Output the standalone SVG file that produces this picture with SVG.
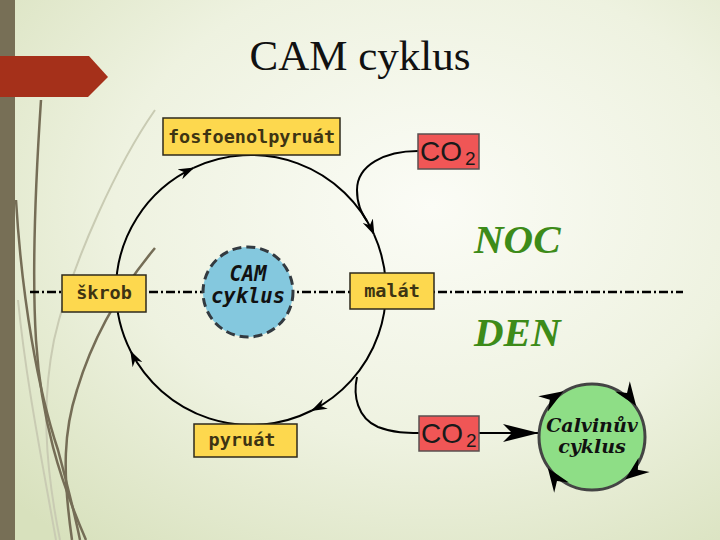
<svg xmlns="http://www.w3.org/2000/svg" width="720" height="540" viewBox="0 0 720 540">
  <defs>
    <radialGradient id="bg" cx="0.6" cy="0.38" r="0.8">
      <stop offset="0" stop-color="#fbfcf6"/>
      <stop offset="0.55" stop-color="#eef2e0"/>
      <stop offset="1" stop-color="#d8e1bd"/>
    </radialGradient>
    <marker id="dart" markerUnits="userSpaceOnUse" viewBox="0 0 16 11" markerWidth="16" markerHeight="11" refX="15" refY="5.5" orient="auto">
      <path d="M0,0 L16,5.5 L0,11 L5,5.5 z" fill="#000"/>
    </marker>
    <marker id="bigdart" markerUnits="userSpaceOnUse" viewBox="0 0 36 18" markerWidth="36" markerHeight="18" refX="35" refY="9" orient="auto">
      <path d="M0,0 L36,9 L0,18 L9,9 z" fill="#000"/>
    </marker>
    <path id="wedge" d="M0,0 L-24,-9 L-16,0 L-24,9 z" fill="#000"/>
    <style>
      .box { fill: #fdd84e; stroke: #2e2a1c; stroke-width: 1.5; }
      .mono { font-family: "DejaVu Sans Mono", "Liberation Mono", monospace; font-weight: bold; font-size: 18.5px; fill: #3d3413; }
      .co2 { fill: #f05656; stroke: #5a5050; stroke-width: 1.5; }
      .co2t { font-family: "Liberation Sans", Arial, sans-serif; fill: #1a1a1a; }
      .conn { fill: none; stroke: #000; stroke-width: 2; }
      .daynight { font-family: "Liberation Serif", "Times New Roman", serif; font-weight: bold; font-style: italic; font-size: 41px; fill: #3d8b19; }
      .camt { font-family: "DejaVu Sans Mono", monospace; font-weight: bold; font-style: italic; font-size: 20.5px; fill: #111; }
      .calt { font-family: "DejaVu Serif", serif; font-weight: bold; font-style: italic; font-size: 19px; fill: #111; }
    </style>
  </defs>

  <rect x="0" y="0" width="720" height="540" fill="url(#bg)"/>

  <!-- decorative slide elements -->
  <g id="decor" fill="none">
    <path d="M155,110 C120,160 72,260 54,340 C42,400 44,460 60,540" stroke="#c9cbb3" stroke-width="2"/>
    <path d="M18,300 C26,380 40,450 56,540" stroke="#c9cbb3" stroke-width="2"/>
    <path d="M41,100 C37,160 31,260 36,340 C41,420 60,480 86,540" stroke="#756d56" stroke-width="2.5"/>
    <path d="M16,200 C22,300 38,390 58,450 C66,480 74,510 80,540" stroke="#756d56" stroke-width="2.5"/>
    <path d="M155,248 C120,290 92,340 77,390 C64,430 62,470 72,540" stroke="#756d56" stroke-width="2.5"/>
    <rect x="0" y="0" width="15" height="540" fill="#776f56"/>
    <polygon points="0,56 89,56 108,77 88,97 0,97" fill="#a5301a"/>
  </g>

  <text id="title" x="360" y="70" text-anchor="middle" font-family="Liberation Serif, 'Times New Roman', serif" font-size="43" fill="#111">CAM cyklus</text>

  <!-- day/night separator -->
  <line x1="30" y1="292" x2="683" y2="292" stroke="#000" stroke-width="2.5" stroke-dasharray="9,3,2,3"/>

  <g id="connectors">
    <path class="conn" d="M116,290 A135,135 0 0 1 193.5,167.9" marker-end="url(#dart)"/>
    <path class="conn" d="M193.5,167.9 A135,135 0 0 1 374,234.4" marker-end="url(#dart)"/>
    <path class="conn" d="M374,234.4 A135,135 0 0 1 311.9,410.5" marker-end="url(#dart)"/>
    <path class="conn" d="M311.9,410.5 A135,135 0 0 1 130.7,351.3" marker-end="url(#dart)"/>
    <path class="conn" d="M130.7,351.3 A135,135 0 0 1 116,290"/>
    <path class="conn" d="M418,151 C385,151 357,165 357,190 C357,204 361,212 367,221"/>
    <path class="conn" d="M357,377 C353,395 357,418 378,427 C393,433 408,433 419,433"/>
    <path class="conn" d="M479,433 L538,433" marker-end="url(#bigdart)"/>
  </g>

  <g id="cam">
    <circle cx="248" cy="292" r="45" fill="#84c8de" stroke="#333a40" stroke-width="3" stroke-dasharray="9,5"/>
    <text class="camt" x="248" y="281" text-anchor="middle">CAM</text>
    <text class="camt" x="248" y="303" text-anchor="middle">cyklus</text>
  </g>

  <g id="pep">
    <rect class="box" x="163" y="118" width="177" height="37"/>
    <text class="mono" x="251.5" y="143" text-anchor="middle">fosfoenolpyruát</text>
  </g>

  <g id="skrob">
    <rect class="box" x="62" y="275" width="84" height="37"/>
    <text class="mono" x="104" y="299" text-anchor="middle">škrob</text>
  </g>

  <g id="malat">
    <rect class="box" x="350" y="273" width="84" height="36"/>
    <text class="mono" x="392" y="297" text-anchor="middle">malát</text>
  </g>

  <g id="pyruat">
    <rect class="box" x="194" y="424" width="103" height="33"/>
    <text class="mono" x="242" y="446" text-anchor="middle">pyruát</text>
  </g>

  <g id="co2-night">
    <rect class="co2" x="418" y="134" width="61" height="35"/>
    <text class="co2t" x="420" y="161" font-size="28">CO</text>
    <text class="co2t" x="465" y="165" font-size="19">2</text>
  </g>

  <g id="co2-day">
    <rect class="co2" x="419" y="416" width="60" height="35"/>
    <text class="co2t" x="421" y="443" font-size="28">CO</text>
    <text class="co2t" x="466" y="447" font-size="19">2</text>
  </g>

  <g id="calvin">
    <circle cx="592" cy="437" r="53" fill="#8ede86" stroke="#444" stroke-width="3"/>
    <use href="#wedge" transform="translate(563.4,391.2) rotate(-32)"/>
    <use href="#wedge" transform="translate(636.2,406) rotate(55)"/>
    <use href="#wedge" transform="translate(625.2,479.6) rotate(142)"/>
    <use href="#wedge" transform="translate(547.8,468) rotate(235)"/>
    <text class="calt" x="592" y="432" text-anchor="middle">Calvinův</text>
    <text class="calt" x="592" y="453" text-anchor="middle">cyklus</text>
  </g>

  <g id="labels">
    <text class="daynight" x="474" y="253">NOC</text>
    <text class="daynight" x="474" y="346">DEN</text>
  </g>
</svg>
